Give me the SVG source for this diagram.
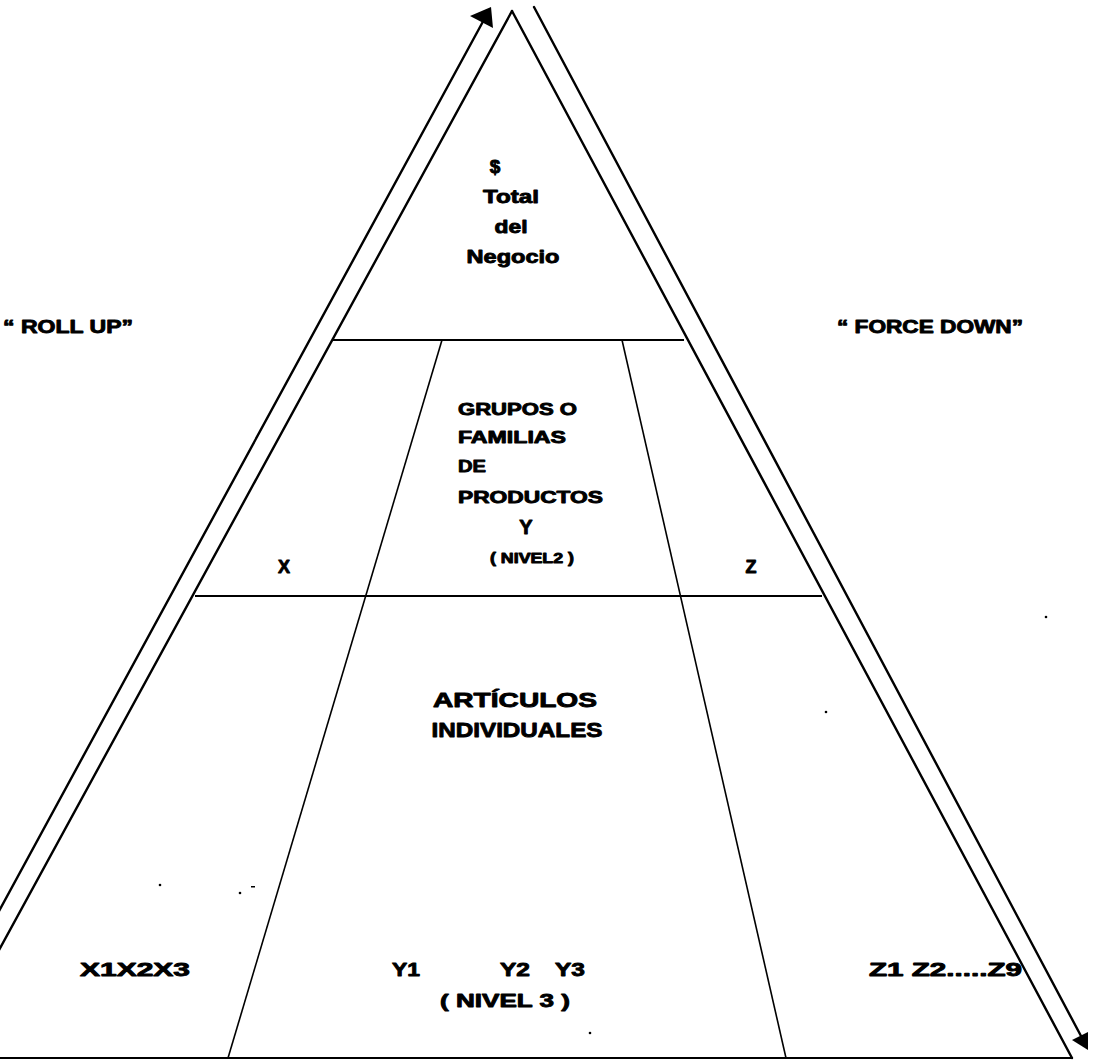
<svg xmlns="http://www.w3.org/2000/svg" width="1098" height="1060" viewBox="0 0 1098 1060">
  <style>
    .edge { stroke: #000; stroke-width: 2.4; fill: none; stroke-linecap: round; }
    .div { stroke: #000; stroke-width: 2; fill: none; }
    .thin { stroke: #000; stroke-width: 1.6; fill: none; }
    .t { font-family: "Liberation Sans", Arial, sans-serif; font-weight: bold; fill: #000; stroke: #000; stroke-width: 0.9; stroke-linejoin: round; }
    .speck { fill: #000; }
  </style>

  <!-- pyramid outline and level dividers -->
  <g id="pyramid">
    <line class="edge" x1="512" y1="11" x2="-60" y2="1058"/>
    <line class="edge" x1="512" y1="11" x2="1072" y2="1058"/>
    <line class="div" x1="0" y1="1058" x2="1073" y2="1058"/>
    <line class="div" x1="333" y1="340" x2="684" y2="340"/>
    <line class="div" x1="195" y1="596" x2="822" y2="596"/>
    <line class="thin" x1="442" y1="340" x2="228" y2="1058"/>
    <line class="thin" x1="622" y1="340" x2="786" y2="1058"/>
  </g>

  <!-- top level: whole business -->
  <g id="total">
    <text class="t" x="495" y="173" font-size="19" text-anchor="middle">$</text>
    <text class="t" x="511" y="203" font-size="19" text-anchor="middle" textLength="56" lengthAdjust="spacingAndGlyphs">Total</text>
    <text class="t" x="511" y="233" font-size="19" text-anchor="middle" textLength="33" lengthAdjust="spacingAndGlyphs">del</text>
    <text class="t" x="513" y="263" font-size="19" text-anchor="middle" textLength="93" lengthAdjust="spacingAndGlyphs">Negocio</text>
  </g>

  <!-- level 2: product groups -->
  <g id="nivel2">
    <text class="t" x="458" y="415" font-size="17" textLength="119" lengthAdjust="spacingAndGlyphs">GRUPOS O</text>
    <text class="t" x="458" y="443" font-size="17" textLength="108" lengthAdjust="spacingAndGlyphs">FAMILIAS</text>
    <text class="t" x="458" y="472" font-size="17" textLength="28" lengthAdjust="spacingAndGlyphs">DE</text>
    <text class="t" x="458" y="503" font-size="17" textLength="145" lengthAdjust="spacingAndGlyphs">PRODUCTOS</text>
    <text class="t" x="526" y="534" font-size="20" text-anchor="middle">Y</text>
    <text class="t" x="532" y="563" font-size="14" text-anchor="middle" textLength="84" lengthAdjust="spacingAndGlyphs">( NIVEL2 )</text>
    <text class="t" x="284" y="573" font-size="18" text-anchor="middle">X</text>
    <text class="t" x="751" y="573" font-size="18" text-anchor="middle">Z</text>
  </g>

  <!-- level 3: individual items -->
  <g id="nivel3">
    <text class="t" x="515" y="707" font-size="21" text-anchor="middle" textLength="164" lengthAdjust="spacingAndGlyphs">ARTÍCULOS</text>
    <text class="t" x="517" y="737" font-size="21" text-anchor="middle" textLength="171" lengthAdjust="spacingAndGlyphs">INDIVIDUALES</text>
    <text class="t" x="80" y="976" font-size="19" textLength="110" lengthAdjust="spacingAndGlyphs">X1X2X3</text>
    <text class="t" x="392" y="976" font-size="19" textLength="28" lengthAdjust="spacingAndGlyphs">Y1</text>
    <text class="t" x="500" y="976" font-size="19" textLength="30" lengthAdjust="spacingAndGlyphs">Y2</text>
    <text class="t" x="555" y="976" font-size="19" textLength="30" lengthAdjust="spacingAndGlyphs">Y3</text>
    <text class="t" x="440" y="1007" font-size="19" textLength="130" lengthAdjust="spacingAndGlyphs">( NIVEL 3 )</text>
    <text class="t" x="869" y="976" font-size="19" textLength="153" lengthAdjust="spacingAndGlyphs">Z1 Z2.....Z9</text>
  </g>

  <!-- side labels -->
  <g id="rollup">
    <text class="t" x="3" y="333" font-size="18" textLength="130" lengthAdjust="spacingAndGlyphs">“ ROLL UP”</text>
  </g>
  <g id="forcedown">
    <text class="t" x="837" y="333" font-size="18" textLength="186" lengthAdjust="spacingAndGlyphs">“ FORCE DOWN”</text>
  </g>

  <!-- roll-up and force-down arrows -->
  <g id="connectors">
    <line class="edge" x1="-81" y1="1058" x2="486" y2="16"/>
    <polygon points="491,7 470,16 493,28" fill="#000"/>
    <line class="edge" x1="534" y1="7" x2="1081" y2="1036"/>
    <polygon points="1088,1050 1072,1040 1088,1032" fill="#000"/>
  </g>

  <!-- stray specks -->
  <g id="specks">
    <circle class="speck" cx="160" cy="885" r="1.3"/>
    <circle class="speck" cx="240" cy="893" r="1.3"/>
    <rect class="speck" x="251" y="886" width="4" height="1.5"/>
    <circle class="speck" cx="826" cy="712" r="1.3"/>
    <circle class="speck" cx="1046" cy="617" r="1.3"/>
    <circle class="speck" cx="590" cy="1033" r="1.3"/>
  </g>
</svg>
